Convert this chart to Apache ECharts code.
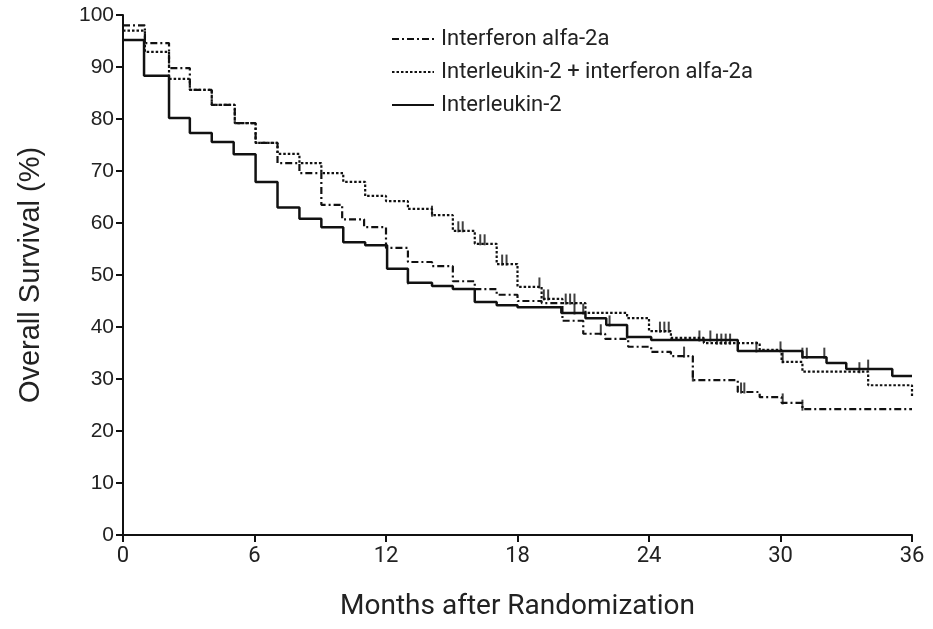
<!DOCTYPE html>
<html>
<head>
<meta charset="utf-8">
<script src="https://cdn.jsdelivr.net/npm/echarts@6/dist/echarts.min.js"></script>
<style>
  html, body { margin: 0; padding: 0; background: #fff; }
  #chart { width: 933px; height: 629px; }
</style>
</head>
<body>
<div id="chart"></div>
<script>
// Kaplan-Meier steps: [month, survival %] - value holds from this month on
var ifnCurve = [
    [0, 98], [1, 94.6], [2.1, 89.8], [3.05, 85.6], [4.05, 82.7], [5.1, 79.2], [6.05, 75.4],
    [7.05, 71.5], [8.05, 69.6], [9.05, 63.5], [10.0, 60.7], [11.0, 59.2], [12.0, 55.2],
    [13.0, 52.5], [14.1, 51.7], [15.05, 48.8], [16.05, 47.3], [17.05, 46.2], [18.0, 45.0],
    [19.1, 44.6], [20.05, 41.2], [21.0, 38.7], [22.0, 37.7], [23.05, 36.2], [24.1, 35.2],
    [25.0, 34.4], [26.0, 29.8], [28.05, 27.5], [29.05, 26.5], [30.05, 25.4], [31.0, 24.2],
    [36, 24.2]
];
var comboCurve = [
    [0, 97], [1, 92.9], [2.1, 87.7], [3.05, 85.6], [4.05, 82.7], [5.1, 79.2], [6.05, 75.4],
    [7.05, 73.3], [8.05, 71.5], [9.05, 69.6], [10.05, 67.9], [11.05, 65.2], [12.0, 64.2],
    [13.0, 62.7], [14.1, 61.5], [15.05, 58.5], [16.05, 56.0], [17.05, 52.1], [18.0, 47.7],
    [19.1, 45.4], [20.05, 44.6], [21.1, 42.7], [23.0, 41.7], [24.0, 39.2], [25.0, 37.9],
    [26.5, 36.9], [29.05, 35.6], [30.05, 33.3], [31.0, 31.4], [34.0, 28.8], [36, 26.5]
];
var il2Curve = [
    [0, 95.2], [0.96, 88.3], [2.1, 80.2], [3.05, 77.3], [4.05, 75.6], [5.05, 73.2],
    [6.05, 67.9], [7.05, 63.0], [8.05, 60.8], [9.05, 59.2], [10.05, 56.3], [11.05, 55.7],
    [12.05, 51.2], [13.0, 48.5], [14.1, 47.9], [15.05, 47.3], [16.05, 44.8], [17.05, 44.2],
    [18.0, 43.8], [20.0, 42.7], [21.1, 41.7], [22.05, 40.4], [23.0, 38.1], [24.1, 37.5],
    [28.05, 35.4], [31.0, 34.2], [32.1, 33.1], [33.0, 31.9], [35.1, 30.6], [36, 30.6]
];

// censoring marks (months)
var ifnCensor = [21.8, 25.6, 26.0, 28.2, 28.35, 30.1, 31.0];
var comboCensor = [14.1, 15.3, 15.5, 16.3, 16.5, 17.3, 17.5, 19.0, 19.2, 19.4, 20.2, 20.4, 20.6,
    24.5, 24.7, 24.9, 27.1, 27.3, 27.5, 27.7, 30.1, 33.6];
var il2Censor = [13.0, 20.6, 21.0, 22.2, 23.0, 26.3, 26.8, 28.9, 30.0, 31.0, 31.2, 32.0, 34.0];

var xTicks = [0, 6, 12, 18, 24, 30, 36];

function stepValue(curve, t) {
    var v = curve[0][1];
    for (var i = 0; i < curve.length; i++) {
        if (curve[i][0] <= t) v = curve[i][1];
    }
    return v;
}
function censorPoints(curve, times) {
    return times.map(function (t) { return [t, stepValue(curve, t)]; });
}

var myChart = echarts.init(document.getElementById('chart'));
var tickMark = {
    type: 'scatter',
    symbol: 'rect',
    symbolSize: [2, 11],
    symbolOffset: [0, -4],
    itemStyle: { color: '#111' },
    silent: true,
    z: 3
};
var option = {
    animation: false,
    grid: { left: 123, right: 21, top: 15, bottom: 94, outerBoundsMode: 'none', containLabel: false },
    legend: {
        data: ['Interferon alfa-2a', 'Interleukin-2 + interferon alfa-2a', 'Interleukin-2'],
        orient: 'vertical',
        left: 386,
        top: 23,
        itemWidth: 42,
        itemHeight: 14,
        itemGap: 11,
        itemStyle: { opacity: 0 },
        textStyle: { fontFamily: 'Roboto', fontSize: 22, color: '#222', padding: [0, 0, 0, 2] }
    },
    xAxis: {
        type: 'value',
        min: 0, max: 36, interval: 6,
        name: 'Months after Randomization',
        nameLocation: 'middle',
        nameGap: 58,
        nameTextStyle: { fontFamily: 'Roboto', fontSize: 28, color: '#222' },
        axisLine: { lineStyle: { color: '#111', width: 2 } },
        axisTick: { length: 7, lineStyle: { color: '#111', width: 2 } },
        axisLabel: {
            fontFamily: 'Roboto', fontSize: 22, color: '#222', margin: 10,
            formatter: function (v) { return xTicks.indexOf(v) >= 0 ? String(v) : ''; }
        },
        splitLine: { show: false }
    },
    yAxis: {
        type: 'value',
        min: 0, max: 100, interval: 10,
        name: 'Overall Survival (%)',
        nameLocation: 'middle',
        nameGap: 78,
        nameTextStyle: { fontFamily: 'Liberation Sans', fontSize: 29, color: '#222' },
        axisLine: { show: true, lineStyle: { color: '#111', width: 2 } },
        axisTick: { show: true, length: 7, lineStyle: { color: '#111', width: 2 } },
        axisLabel: { fontFamily: 'Liberation Sans', fontSize: 21, color: '#222', margin: 9 },
        splitLine: { show: false }
    },
    series: [
        {
            name: 'Interferon alfa-2a', type: 'line', step: 'end', symbol: 'none',
            data: ifnCurve,
            lineStyle: { color: '#111', width: 2.2, type: [7, 3, 2, 3] },
            itemStyle: { color: '#111' }
        },
        {
            name: 'Interleukin-2 + interferon alfa-2a', type: 'line', step: 'end', symbol: 'none',
            data: comboCurve,
            lineStyle: { color: '#111', width: 2.2, type: [2.5, 2] },
            itemStyle: { color: '#111' }
        },
        {
            name: 'Interleukin-2', type: 'line', step: 'end', symbol: 'none',
            data: il2Curve,
            lineStyle: { color: '#111', width: 2.5, type: 'solid' },
            itemStyle: { color: '#111' }
        },
        Object.assign({ name: 'c1', data: censorPoints(ifnCurve, ifnCensor) }, tickMark),
        Object.assign({ name: 'c2', data: censorPoints(comboCurve, comboCensor) }, tickMark),
        Object.assign({ name: 'c3', data: censorPoints(il2Curve, il2Censor) }, tickMark)
    ]
};
myChart.setOption(option, true);
</script>
</body>
</html>
